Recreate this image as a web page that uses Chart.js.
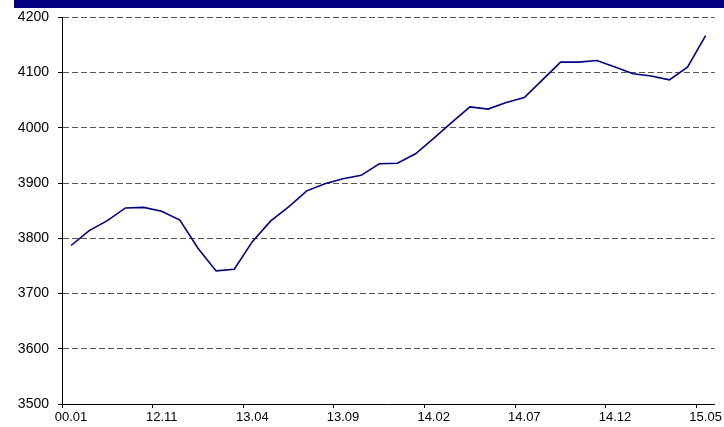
<!DOCTYPE html>
<html>
<head>
<meta charset="utf-8">
<script src="https://cdn.jsdelivr.net/npm/chart.js@4"></script>
<style>
    body { margin: 0; background: #fff; }
    #wrap { position: relative; width: 724px; height: 427px; }
    #topBar { position: absolute; left: 14px; top: 0; width: 710px; height: 8px; background: #000080; }
</style>
</head>
<body>
<div id="wrap">
    <div id="topBar"></div>
    <canvas id="mainChart" width="724" height="427"></canvas>
</div>
<script>
// months, only every 5th one is labelled on the axis
const months = ['00.01', '12.07', '12.08', '12.09', '12.10', '12.11', '12.12', '13.01', '13.02', '13.03',
    '13.04', '13.05', '13.06', '13.07', '13.08', '13.09', '13.10', '13.11', '13.12', '14.01',
    '14.02', '14.03', '14.04', '14.05', '14.06', '14.07', '14.08', '14.09', '14.10', '14.11',
    '14.12', '15.01', '15.02', '15.03', '15.04', '15.05'];
const values = [3787, 3814, 3832, 3855, 3856, 3849, 3833, 3782, 3741, 3744,
    3794, 3831, 3857, 3886, 3899, 3908, 3914, 3935, 3936, 3953,
    3981, 4010, 4038, 4034, 4046, 4055, 4087, 4119, 4119, 4122,
    4110, 4098, 4094, 4087, 4110, 4167];
const yMin = 3500;
const yMax = 4200;
const yStep = 100;
const labelEvery = 5;

function mainChart() {
    var ctx = document.getElementById('mainChart').getContext('2d');
    var chart = new Chart(ctx, {
        type: 'line',
        data: {
            labels: months,
            datasets: [{
                data: values,
                borderColor: '#000080',
                borderWidth: 1.6,
                pointRadius: 0,
                tension: 0,
                fill: false
            }]
        },
        options: {
            responsive: false,
            animation: false,
            devicePixelRatio: 1,
            layout: {
                padding: { left: 0, top: 17, right: 8, bottom: 0 }
            },
            plugins: {
                legend: { display: false },
                tooltip: { enabled: false }
            },
            scales: {
                x: {
                    offset: true,
                    afterFit: function(scale) { scale.height = 23; },
                    grid: {
                        offset: true,
                        drawOnChartArea: false,
                        tickLength: 4,
                        tickColor: function(c) { return c.index % labelEvery === 0 ? '#000' : 'rgba(0,0,0,0)'; }
                    },
                    border: { color: '#000', width: 1 },
                    ticks: {
                        autoSkip: false,
                        maxRotation: 0,
                        padding: 2,
                        color: '#000',
                        font: { family: 'Liberation Sans', size: 13 },
                        callback: function(v, i) { return i % labelEvery === 0 ? months[i] : ''; }
                    }
                },
                y: {
                    min: yMin,
                    max: yMax,
                    afterFit: function(scale) { scale.width = 62; },
                    grid: {
                        color: function(c) { return c.tick && c.tick.value === yMin ? 'rgba(0,0,0,0)' : '#555'; },
                        lineWidth: 1,
                        tickLength: 4,
                        tickColor: '#000'
                    },
                    border: { color: '#000', width: 1, dash: [6, 3] },
                    ticks: {
                        stepSize: yStep,
                        padding: 9,
                        color: '#000',
                        font: { family: 'Liberation Sans', size: 14 },
                        callback: function(v) { return String(v); }
                    }
                }
            }
        }
    });
}

window.onload = function() {
    mainChart();
};
</script>
</body>
</html>
